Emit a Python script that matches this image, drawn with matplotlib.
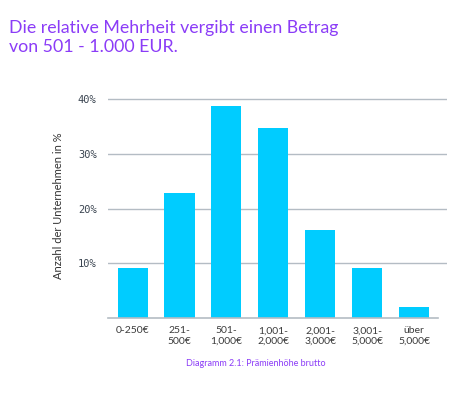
import matplotlib.pyplot as plt

categories = ["0-250€", "251-\n500€", "501-\n1,000€", "1,001-\n2,000€",
              "2,001-\n3,000€", "3,001-\n5,000€", "über\n5,000€"]
shares = [9.1, 22.9, 38.7, 34.8, 16.1, 9.2, 2.1]
y_ticks = [10, 20, 30, 40]
y_tick_labels = ["10%", "20%", "30%", "40%"]

purple = "#8b3cf7"
bar_color = "#00ccff"
grid_color = "#b4bcc4"

fig = plt.figure(figsize=(4.77, 4.08), dpi=100)
fig.text(0.019, 0.952, "Die relative Mehrheit vergibt einen Betrag\nvon 501 - 1.000 EUR.",
         ha="left", va="top", fontsize=12.8, color=purple, family="Lato",
         linespacing=1.25)

ax = fig.add_axes([0.2258, 0.2206, 0.7113, 0.5497])
x = range(len(categories))
ax.bar(x, shares, width=0.64, color=bar_color, zorder=3)
ax.set_xlim(-0.53, 6.70)
ax.set_ylim(0, 41)
for t in y_ticks:
    ax.axhline(t, color=grid_color, lw=1.0, zorder=1)
ax.plot([-0.53, 6.51], [0, 0], color=grid_color, lw=1.2, zorder=4, clip_on=False)

ax.set_yticks(y_ticks)
ax.set_yticklabels(y_tick_labels, family="DejaVu Sans Mono", fontsize=7.5, color="#3a4450")
ax.set_xticks(list(x))
ax.set_xticklabels(categories, family="Lato", fontsize=7.5, color="#3c3c3c", linespacing=1.2)
ax.tick_params(axis="both", length=0)
ax.tick_params(axis="y", pad=8)
ax.tick_params(axis="x", pad=6)
for s in ax.spines.values():
    s.set_visible(False)
ax.set_ylabel("Anzahl der Unternehmen in %", family="Lato", fontsize=8, color="#333333",
              labelpad=10)

fig.text(0.537, 0.11, "Diagramm 2.1: Prämienhöhe brutto", ha="center", va="center",
         fontsize=6.5, color=purple, family="Lato")

fig.savefig("out.png", dpi=100)
